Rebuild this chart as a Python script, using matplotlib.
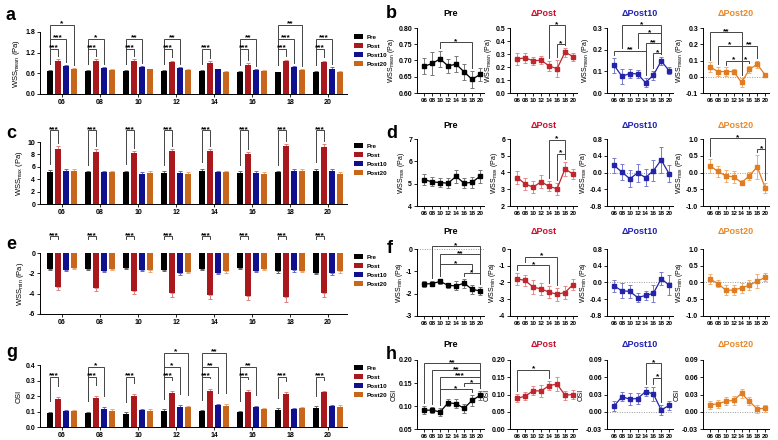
import numpy as np
import matplotlib
matplotlib.use('Agg')
import matplotlib.pyplot as plt

plt.rcParams['font.family'] = ['Liberation Sans', 'DejaVu Sans']
plt.rcParams['font.weight'] = 'bold'
plt.rcParams['axes.unicode_minus'] = False
plt.rcParams['mathtext.fontset'] = 'custom'
plt.rcParams['mathtext.rm'] = 'Liberation Sans:bold'
plt.rcParams['mathtext.bf'] = 'Liberation Sans:bold'
plt.rcParams['mathtext.default'] = 'rm'

W, H = 778, 440

# ---------------- data ----------------
slices = ['06', '08', '10', '12', '14', '16', '18', '20']
groups = ['Pre', 'Post', 'Post10', 'Post20']
line_titles = ['Pre', 'ΔPost', 'ΔPost10', 'ΔPost20']

# a: WSS mean (bars)
wssmean_pre = [0.67, 0.67, 0.68, 0.67, 0.68, 0.65, 0.63, 0.65]
wssmean_post = [0.97, 0.97, 0.96, 0.94, 0.90, 0.85, 0.96, 0.94]
wssmean_post10 = [0.80, 0.75, 0.79, 0.75, 0.72, 0.71, 0.78, 0.74]
wssmean_post20 = [0.72, 0.70, 0.72, 0.69, 0.64, 0.68, 0.70, 0.65]
wssmean_pre_err = [0.02, 0.03, 0.02, 0.02, 0.02, 0.02, 0.02, 0.02]
wssmean_post_err = [0.04, 0.035, 0.045, 0.03, 0.05, 0.05, 0.04, 0.03]
wssmean_post10_err = [0.04, 0.025, 0.03, 0.025, 0.02, 0.025, 0.025, 0.03]
wssmean_post20_err = [0.025, 0.02, 0.02, 0.025, 0.02, 0.02, 0.03, 0.025]

# c: WSS max (bars)
wssmax_pre = [5.2, 5.1, 5.1, 5.0, 5.4, 5.0, 5.1, 5.4]
wssmax_post = [8.9, 8.4, 8.2, 8.5, 8.5, 8.1, 9.3, 9.2]
wssmax_post10 = [5.4, 5.1, 4.9, 5.0, 5.2, 5.0, 5.4, 5.4]
wssmax_post20 = [5.4, 5.1, 5.0, 4.9, 5.1, 4.9, 5.3, 4.9]
wssmax_pre_err = [0.3, 0.25, 0.3, 0.3, 0.3, 0.3, 0.25, 0.3]
wssmax_post_err = [0.4, 0.45, 0.4, 0.4, 0.3, 0.3, 0.4, 0.45]
wssmax_post10_err = [0.25, 0.25, 0.3, 0.3, 0.2, 0.3, 0.25, 0.3]
wssmax_post20_err = [0.3, 0.25, 0.25, 0.25, 0.3, 0.25, 0.3, 0.3]

# e: WSS min (bars)
wssmin_pre = [-1.6, -1.55, -1.45, -1.65, -1.6, -1.5, -1.8, -1.95]
wssmin_post = [-3.35, -3.4, -3.7, -3.95, -4.15, -4.2, -4.35, -3.95]
wssmin_post10 = [-1.7, -1.75, -1.65, -2.0, -1.95, -1.75, -1.7, -1.95]
wssmin_post20 = [-1.45, -1.6, -1.7, -1.85, -1.8, -1.6, -1.75, -1.75]
wssmin_pre_err = [0.12, 0.12, 0.12, 0.12, 0.12, 0.12, 0.15, 0.12]
wssmin_post_err = [0.25, 0.3, 0.35, 0.35, 0.4, 0.45, 0.5, 0.35]
wssmin_post10_err = [0.1, 0.12, 0.12, 0.15, 0.1, 0.12, 0.12, 0.25]
wssmin_post20_err = [0.12, 0.1, 0.12, 0.1, 0.12, 0.1, 0.1, 0.2]

# g: OSI (bars)
osi_pre = [0.09, 0.09, 0.085, 0.105, 0.103, 0.095, 0.11, 0.123]
osi_post = [0.18, 0.187, 0.20, 0.217, 0.23, 0.223, 0.21, 0.223]
osi_post10 = [0.102, 0.117, 0.107, 0.13, 0.14, 0.128, 0.115, 0.135]
osi_post20 = [0.103, 0.105, 0.105, 0.128, 0.135, 0.115, 0.12, 0.132]
osi_pre_err = [0.01, 0.01, 0.01, 0.008, 0.008, 0.01, 0.012, 0.01]
osi_post_err = [0.015, 0.015, 0.015, 0.015, 0.015, 0.018, 0.015, 0.012]
osi_post10_err = [0.01, 0.01, 0.01, 0.01, 0.01, 0.01, 0.01, 0.01]
osi_post20_err = [0.008, 0.01, 0.008, 0.01, 0.015, 0.01, 0.01, 0.012]

# bar significance: (slice index, compared group index, level, label)
sig_a = [(0, 1, 1, '***'), (0, 2, 2, '***'), (0, 3, 3, '*'), (1, 1, 1, '***'), (1, 2, 2, '*'),
         (2, 1, 1, '***'), (2, 2, 2, '**'), (3, 1, 1, '***'), (3, 2, 2, '**'), (4, 1, 1, '***'),
         (5, 1, 1, '***'), (5, 2, 2, '**'), (6, 1, 1, '***'), (6, 2, 2, '***'), (6, 3, 3, '**'),
         (7, 1, 1, '***'), (7, 2, 2, '***')]
sig_c = [(i, 1, 1, '***') for i in range(8)]
sig_e = [(i, 1, 1, '***') for i in range(8)]
sig_g = [(0, 1, 1, '***'), (1, 1, 1, '***'), (1, 2, 2, '*'), (2, 1, 1, '***'), (3, 1, 1, '***'),
         (3, 2, 2, '*'), (3, 3, 3, '*'), (4, 1, 1, '***'), (4, 2, 2, '**'), (4, 3, 3, '**'),
         (5, 1, 1, '***'), (5, 2, 2, '**'), (6, 1, 1, '***'), (7, 1, 1, '***')]

# b: WSS mean lines (Pre, dPost, dPost10, dPost20)
b_pre = [0.682, 0.691, 0.705, 0.683, 0.689, 0.665, 0.642, 0.657]
b_pre_err = [0.025, 0.035, 0.025, 0.022, 0.025, 0.025, 0.027, 0.02]
b_dpost = [0.262, 0.27, 0.248, 0.252, 0.208, 0.187, 0.315, 0.28]
b_dpost_err = [0.045, 0.04, 0.03, 0.03, 0.04, 0.065, 0.035, 0.03]
b_dpost10 = [0.128, 0.077, 0.09, 0.088, 0.048, 0.082, 0.148, 0.103]
b_dpost10_err = [0.035, 0.035, 0.02, 0.02, 0.02, 0.02, 0.02, 0.015]
b_dpost20 = [0.06, 0.032, 0.032, 0.032, -0.035, 0.045, 0.077, 0.012]
b_dpost20_err = [0.028, 0.03, 0.025, 0.015, 0.03, 0.02, 0.022, 0.012]

# d: WSS max lines
d_pre = [5.18, 5.08, 5.05, 5.02, 5.33, 5.02, 5.06, 5.33]
d_pre_err = [0.25, 0.2, 0.22, 0.22, 0.28, 0.22, 0.25, 0.28]
d_dpost = [3.7, 3.32, 3.12, 3.45, 3.17, 3.03, 4.22, 3.9]
d_dpost_err = [0.38, 0.38, 0.35, 0.4, 0.3, 0.35, 0.4, 0.3]
d_dpost10 = [0.17, 0.01, -0.15, -0.01, -0.12, 0.04, 0.3, -0.03]
d_dpost10_err = [0.18, 0.2, 0.2, 0.22, 0.2, 0.25, 0.3, 0.2]
d_dpost20 = [0.2, 0.03, -0.1, -0.13, -0.3, -0.1, 0.17, -0.45]
d_dpost20_err = [0.2, 0.15, 0.18, 0.18, 0.07, 0.12, 0.35, 0.15]

# f: WSS min lines
f_pre = [-1.57, -1.55, -1.45, -1.63, -1.65, -1.53, -1.8, -1.88]
f_pre_err = [0.15, 0.12, 0.12, 0.12, 0.2, 0.2, 0.2, 0.2]
f_dpost = [-1.78, -1.88, -2.28, -2.38, -2.58, -2.7, -2.6, -2.12]
f_dpost_err = [0.35, 0.3, 0.4, 0.35, 0.35, 0.4, 0.4, 0.3]
f_dpost10 = [-0.08, -0.2, -0.21, -0.36, -0.31, -0.26, 0.09, -0.06]
f_dpost10_err = [0.15, 0.18, 0.15, 0.1, 0.1, 0.2, 0.15, 0.25]
f_dpost20 = [0.1, -0.03, -0.23, -0.23, -0.16, -0.08, 0.04, 0.15]
f_dpost20_err = [0.15, 0.1, 0.15, 0.15, 0.15, 0.15, 0.2, 0.12]

# h: OSI lines
h_pre = [0.091, 0.091, 0.087, 0.107, 0.105, 0.095, 0.112, 0.123]
h_pre_err = [0.008, 0.007, 0.008, 0.008, 0.01, 0.01, 0.012, 0.01]
h_dpost = [0.089, 0.095, 0.111, 0.11, 0.126, 0.13, 0.098, 0.1]
h_dpost_err = [0.012, 0.012, 0.013, 0.018, 0.012, 0.02, 0.013, 0.012]
h_dpost10 = [0.01, 0.026, 0.022, 0.023, 0.035, 0.031, 0.003, 0.011]
h_dpost10_err = [0.008, 0.008, 0.01, 0.01, 0.008, 0.012, 0.008, 0.008]
h_dpost20 = [0.012, 0.014, 0.018, 0.02, 0.032, 0.018, 0.005, 0.006]
h_dpost20_err = [0.007, 0.007, 0.007, 0.008, 0.008, 0.007, 0.007, 0.006]

# line significance: (from index, to index, level, label)
sig_b = [[(2, 6, 0.756, '*')],
         [(5, 6, 0.377, '*'), (4, 6, 0.52, '*')],
         [(0, 4, 0.196, '**'), (5, 6, 0.184, '*'), (4, 6, 0.23, '**'), (3, 6, 0.276, '*'), (1, 6, 0.314, '*')],
         [(0, 4, 0.273, '**'), (1, 4, 0.192, '*'), (2, 4, 0.1, '*'), (4, 5, 0.1, '*'), (4, 6, 0.192, '**')]]
sig_d = [[], [(4, 6, 5.96, '*'), (5, 6, 5.12, '*')], [], [(0, 7, 1.03, '*'), (6, 7, 0.7, '*')]]
sig_f = [[(1, 7, 0.13, '*'), (2, 7, -0.22, '**'), (2, 6, -0.67, '*'), (5, 7, -1.08, '*')],
         [(1, 5, -0.45, '*'), (0, 4, -0.96, '*')], [], []]
sig_h = [[(0, 7, 0.193, '**'), (1, 7, 0.178, '**'), (2, 7, 0.164, '***'), (2, 6, 0.136, '*'), (5, 7, 0.149, '*')],
         [(0, 4, 0.172, '*')], [(4, 6, 0.084, '*'), (5, 6, 0.059, '*')], []]

# ---------------- style ----------------
bar_colors = ['#000000', '#A8181C', '#10108E', '#C8661C']
bar_err_colors = ['#666666', '#E08080', '#6A6AC8', '#E8A870']
line_colors = ['#000000', '#C0262C', '#2424A8', '#E07C22']
line_err_colors = ['#777777', '#E48A8C', '#7A7AD0', '#F0B070']
title_colors = ['#000000', '#C8102E', '#2323B4', '#E8892A']
br_color = '#444444'
TF = 5.0

fig = plt.figure(figsize=(W / 100, H / 100), dpi=100)


def add_ax(x0, y0, x1, y1):
    return fig.add_axes([x0 / W, 1 - y1 / H, (x1 - x0) / W, (y1 - y0) / H])


def style_ax(ax):
    for s in ['top', 'right']:
        ax.spines[s].set_visible(False)
    for s in ['left', 'bottom']:
        ax.spines[s].set_linewidth(0.7)
    ax.tick_params(length=2, width=0.6, labelsize=TF, pad=1.5)


def star(ax, x, y, txt):
    ax.annotate(txt, (x, y), xytext=(0, -0.6), textcoords='offset points', ha='center',
                va='baseline', fontsize=6, fontweight='bold', annotation_clip=False)


def bar_panel(box, vals, errs, ylim, yticks, ylabel, sigs, levels, gaps, leg_y, leg_bottom=None):
    ax = add_ax(*box)
    style_ax(ax)
    x = np.arange(len(slices))
    offs = [-0.315, -0.105, 0.105, 0.315]
    for g in range(4):
        v = np.array(vals[g])
        e = np.array(errs[g])
        ax.bar(x + offs[g], v, width=0.15, color=bar_colors[g], label=groups[g], zorder=2)
        if v.mean() >= 0:
            yerr = [np.zeros_like(e), e]
        else:
            yerr = [e, np.zeros_like(e)]
        ax.errorbar(x + offs[g], v, yerr=yerr, fmt='none', ecolor=bar_err_colors[g],
                    elinewidth=0.7, capsize=1.3, capthick=0.7, zorder=1)
    ax.set_xlim(-0.58, 7.5)
    ax.set_ylim(*ylim)
    ax.set_yticks(yticks)
    ax.set_xticks(x)
    ax.set_xticklabels(slices)
    ax.set_ylabel(ylabel, fontsize=5.5, labelpad=2)
    for (i, g, lev, txt) in sigs:
        x1 = i + offs[0]
        x2 = i + offs[g]
        y = levels[lev - 1]
        if leg_bottom is None:
            yb1 = vals[0][i] + errs[0][i] + gaps[0]
            yb2 = vals[g][i] + errs[g][i] + gaps[1]
        else:
            yb1 = yb2 = leg_bottom
        ax.plot([x1, x1, x2, x2], [yb1, y, y, yb2], color=br_color, lw=0.7, clip_on=False,
                solid_joinstyle='miter')
        star(ax, (x1 + x2) / 2, y, txt)
    ax.legend(loc='upper left', bbox_to_anchor=(354 / W, 1 - leg_y / H), bbox_transform=fig.transFigure,
              frameon=False, prop={'size': 4.5, 'weight': 'bold'}, handlelength=1.5, handleheight=0.85,
              labelspacing=0.55, handletextpad=0.5, borderaxespad=0, borderpad=0)
    return ax


def line_panel(box, col, vals, errs, ylim, yticks, yticklabels, ylabel, sigs, zero=False):
    ax = add_ax(*box)
    style_ax(ax)
    ax.tick_params(axis='x', labelsize=4.5, pad=1.5)
    x = np.arange(len(slices))
    v = np.array(vals)
    e = np.array(errs)
    if zero:
        ax.axhline(0, color='#999999', lw=0.7, ls=(0, (1, 1.5)), zorder=0)
    ax.errorbar(x, v, yerr=e, color=line_colors[col], ecolor=line_err_colors[col], elinewidth=0.7,
                capsize=1.5, capthick=0.7, lw=0.9, marker='s', ms=2.6, zorder=3)
    ax.set_xlim(-0.9, 7.5)
    ax.set_ylim(*ylim)
    ax.set_yticks(yticks)
    ax.set_yticklabels(yticklabels)
    ax.set_xticks(x)
    ax.set_xticklabels(slices)
    ax.set_ylabel(ylabel, fontsize=5.0, labelpad=0.8)
    rng = ylim[1] - ylim[0]
    gap = 0.045 * rng
    for (i, j, lev, txt) in sigs:
        bottoms = []
        for xx in (i, j):
            b = v[xx] + e[xx] + gap
            for (i2, j2, lev2, _) in sigs:
                if lev2 < lev and i2 < xx < j2:
                    b = max(b, lev2 + gap)
            bottoms.append(b)
        ax.plot([i, i, j, j], [bottoms[0], lev, lev, bottoms[1]], color=br_color, lw=0.7,
                clip_on=False, solid_joinstyle='miter')
        star(ax, (i + j) / 2, lev, txt)
    return ax


# ---------------- bar panels ----------------
bar_panel((40, 32, 347, 94),
          [wssmean_pre, wssmean_post, wssmean_post10, wssmean_post20],
          [wssmean_pre_err, wssmean_post_err, wssmean_post10_err, wssmean_post20_err],
          (0, 1.8), [0.0, 0.6, 1.2, 1.8], r'WSS$_{\mathregular{mean}}$ (Pa)',
          sig_a, [1.31, 1.60, 2.01], (0.18, 0.09), 34)
bar_panel((40, 142, 347, 204),
          [wssmax_pre, wssmax_post, wssmax_post10, wssmax_post20],
          [wssmax_pre_err, wssmax_post_err, wssmax_post10_err, wssmax_post20_err],
          (0, 10), [0, 2, 4, 6, 8, 10], r'WSS$_{\mathregular{max}}$ (Pa)',
          sig_c, [11.9], (1.0, 0.5), 143)
bar_panel((40, 253, 347, 314),
          [wssmin_pre, wssmin_post, wssmin_post10, wssmin_post20],
          [wssmin_pre_err, wssmin_post_err, wssmin_post10_err, wssmin_post20_err],
          (-6, 0), [-6, -4, -2, 0], r'WSS$_{\mathregular{min}}$ (Pa)',
          sig_e, [1.66], (0, 0), 254, leg_bottom=1.33)
bar_panel((40, 365, 347, 427),
          [osi_pre, osi_post, osi_post10, osi_post20],
          [osi_pre_err, osi_post_err, osi_post10_err, osi_post20_err],
          (0, 0.4), [0.0, 0.1, 0.2, 0.3, 0.4], 'OSI',
          sig_g, [0.325, 0.39, 0.48], (0.065, 0.07), 365)

# ---------------- line panels ----------------
cols_x = [(417, 484), (510, 577), (607, 673), (703, 769)]
rows_y = [(28, 93), (139, 206), (249, 316), (360, 429)]
title_y = [13, 125, 232, 344]

b_vals = [b_pre, b_dpost, b_dpost10, b_dpost20]
b_errs = [b_pre_err, b_dpost_err, b_dpost10_err, b_dpost20_err]
b_lims = [(0.60, 0.80), (0, 0.5), (0, 0.3), (-0.1, 0.3)]
b_ticks = [[0.60, 0.65, 0.70, 0.75, 0.80], [0, 0.1, 0.2, 0.3, 0.4, 0.5], [0, 0.1, 0.2, 0.3], [-0.1, 0, 0.1, 0.2, 0.3]]
b_labels = [['0.60', '0.65', '0.70', '0.75', '0.80'], ['0.0', '0.1', '0.2', '0.3', '0.4', '0.5'],
            ['0.0', '0.1', '0.2', '0.3'], ['-0.1', '0.0', '0.1', '0.2', '0.3']]
b_zero = [False, False, False, True]

d_vals = [d_pre, d_dpost, d_dpost10, d_dpost20]
d_errs = [d_pre_err, d_dpost_err, d_dpost10_err, d_dpost20_err]
d_lims = [(4, 7), (2, 6), (-0.8, 0.8), (-1.0, 1.0)]
d_ticks = [[4, 5, 6, 7], [2, 3, 4, 5, 6], [-0.8, -0.4, 0, 0.4, 0.8], [-1.0, -0.5, 0, 0.5, 1.0]]
d_labels = [['4', '5', '6', '7'], ['2', '3', '4', '5', '6'], ['-0.8', '-0.4', '0.0', '0.4', '0.8'],
            ['-1.0', '-0.5', '0.0', '0.5', '1.0']]
d_zero = [False, False, True, True]

f_vals = [f_pre, f_dpost, f_dpost10, f_dpost20]
f_errs = [f_pre_err, f_dpost_err, f_dpost10_err, f_dpost20_err]
f_lims = [(-3, 0), (-4, 0), (-0.8, 0.8), (-1.0, 1.0)]
f_ticks = [[-3, -2, -1, 0], [-4, -3, -2, -1, 0], [-0.8, -0.4, 0, 0.4, 0.8], [-1.0, -0.5, 0, 0.5, 1.0]]
f_labels = [['-3', '-2', '-1', '0'], ['-4', '-3', '-2', '-1', '0'], ['-0.8', '-0.4', '0.0', '0.4', '0.8'],
            ['-1.0', '-0.5', '0.0', '0.5', '1.0']]
f_zero = [True, False, True, True]

h_vals = [h_pre, h_dpost, h_dpost10, h_dpost20]
h_errs = [h_pre_err, h_dpost_err, h_dpost10_err, h_dpost20_err]
h_lims = [(0.05, 0.20), (0, 0.20), (-0.03, 0.09), (-0.03, 0.09)]
h_ticks = [[0.05, 0.10, 0.15, 0.20], [0, 0.05, 0.10, 0.15, 0.20], [-0.03, 0, 0.03, 0.06, 0.09], [-0.03, 0, 0.03, 0.06, 0.09]]
h_labels = [['0.05', '0.10', '0.15', '0.20'], ['0.00', '0.05', '0.10', '0.15', '0.20'],
            ['-0.03', '0.00', '0.03', '0.06', '0.09'], ['-0.03', '0.00', '0.03', '0.06', '0.09']]
h_zero = [False, False, True, True]

rows = [
    (b_vals, b_errs, b_lims, b_ticks, b_labels, r'WSS$_{\mathregular{mean}}$ (Pa)', sig_b, b_zero),
    (d_vals, d_errs, d_lims, d_ticks, d_labels, r'WSS$_{\mathregular{max}}$ (Pa)', sig_d, d_zero),
    (f_vals, f_errs, f_lims, f_ticks, f_labels, r'WSS$_{\mathregular{min}}$ (Pa)', sig_f, f_zero),
    (h_vals, h_errs, h_lims, h_ticks, h_labels, 'OSI', sig_h, h_zero),
]

for r, (vals, errs, lims, ticks, labels, ylab, sigs, zeros) in enumerate(rows):
    y0, y1 = rows_y[r]
    for c in range(4):
        x0, x1 = cols_x[c]
        line_panel((x0, y0, x1, y1), c, vals[c], errs[c], lims[c], ticks[c], labels[c], ylab,
                   sigs[c], zero=zeros[c])
        fig.text(((x0 + x1) / 2) / W, 1 - title_y[r] / H, line_titles[c], color=title_colors[c],
                 fontsize=6.5, fontweight='bold', ha='center', va='center')

# panel letters
letters = [('a', 6, 16), ('b', 386, 14), ('c', 6, 134), ('d', 386, 133),
           ('e', 6, 244), ('f', 387, 248), ('g', 6, 352), ('h', 386, 354)]
for t, lx, ly in letters:
    fig.text(lx / W, 1 - ly / H, t, fontsize=13, fontweight='bold', ha='left', va='center')

fig.savefig('out.png', dpi=100)
